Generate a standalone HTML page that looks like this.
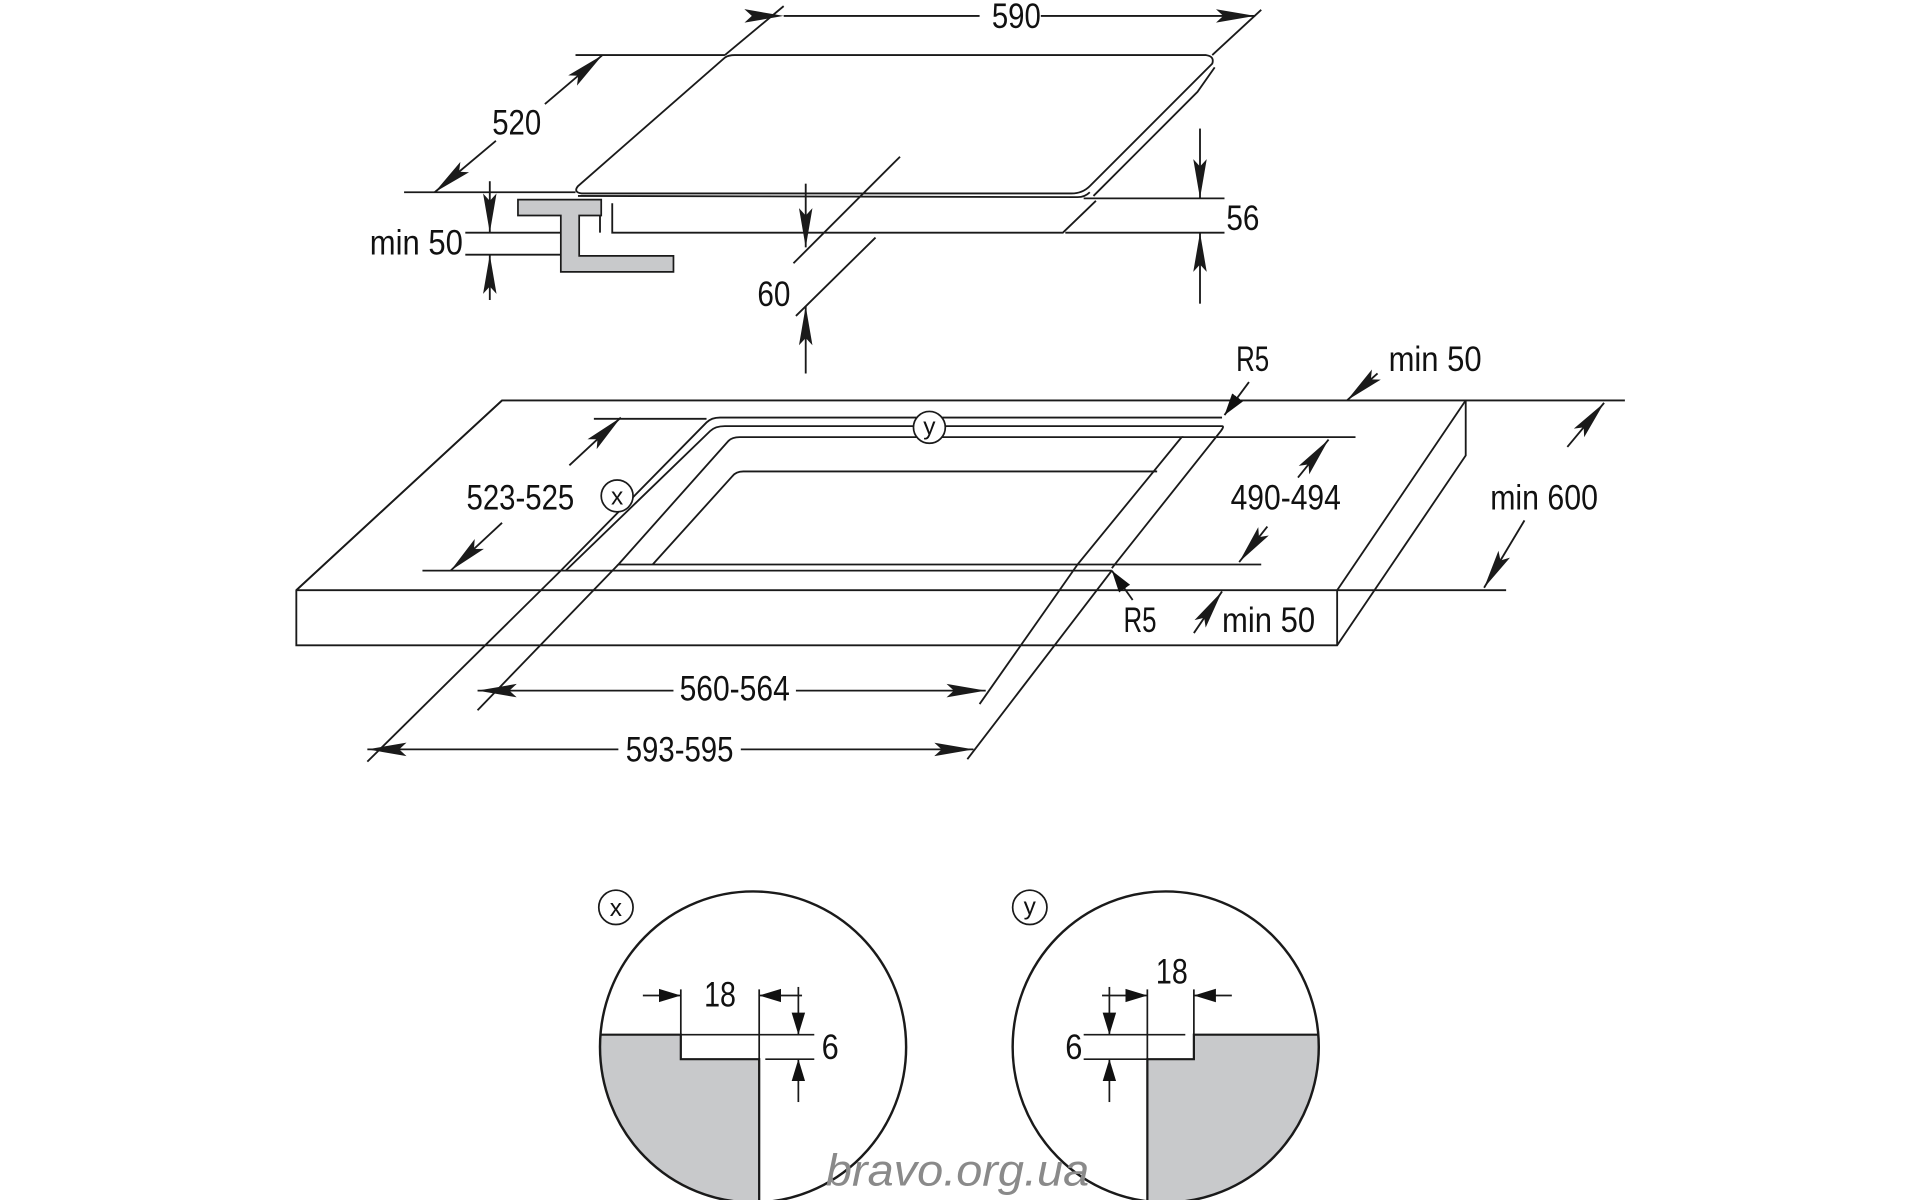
<!DOCTYPE html>
<html><head><meta charset="utf-8"><style>html,body{margin:0;padding:0;background:#fff}svg{display:block}</style></head>
<body>
<svg width="1920" height="1200" viewBox="0 0 1568 980" preserveAspectRatio="none" xmlns="http://www.w3.org/2000/svg">
<defs>
<marker id="a" markerUnits="userSpaceOnUse" markerWidth="34" markerHeight="14" refX="32" refY="7" orient="auto"><path d="M0,1.5 L32,7 L0,12.5 L6,7 Z" fill="#1a1a1a"/></marker>
<marker id="s" markerUnits="userSpaceOnUse" markerWidth="20" markerHeight="14" refX="18" refY="7" orient="auto"><path d="M0,1.5 L18,7 L0,12.5 Z" fill="#111"/></marker>
</defs>
<g fill="none" stroke="#1a1a1a" stroke-width="1.5">
<path d="M600,45 L985,45 Q992,46 990,52 L890,152 Q884,158 875,158 L475,158 Q468,157 472,152 L592,47 Q595,45 600,45 Z"/>
<path d="M472,160 L880,161 Q886,161 890,157"/>
<path d="M992,55 L978,75 L893,160"/>
<path d="M500,166 L500,190 L868,190 L895,164"/>
<path d="M490,166 L490,190"/>
<line x1="592" y1="45" x2="640" y2="5"/><line x1="990" y1="45" x2="1030" y2="8"/>
<line x1="640" y1="13" x2="800" y2="13" marker-start="url(#a)"/><line x1="850" y1="13" x2="1025" y2="13" marker-end="url(#a)"/>
<line x1="470" y1="45" x2="592" y2="45"/><line x1="330" y1="157" x2="470" y2="157"/>
<line x1="445" y1="85" x2="492" y2="45" marker-end="url(#a)"/><line x1="405" y1="115" x2="355" y2="157" marker-end="url(#a)"/>
<line x1="885" y1="162" x2="1000" y2="162"/><line x1="870" y1="190" x2="1000" y2="190"/>
<line x1="980" y1="105" x2="980" y2="162" marker-end="url(#a)"/><line x1="980" y1="248" x2="980" y2="190" marker-end="url(#a)"/>
<line x1="735" y1="128" x2="648" y2="215"/><line x1="715" y1="194" x2="650" y2="258"/>
<line x1="658" y1="150" x2="658" y2="202" marker-end="url(#a)"/><line x1="658" y1="305" x2="658" y2="250" marker-end="url(#a)"/>
<line x1="400" y1="148" x2="400" y2="190" marker-end="url(#a)"/><line x1="400" y1="245" x2="400" y2="208" marker-end="url(#a)"/>
<line x1="380" y1="190" x2="460" y2="190"/><line x1="380" y1="208" x2="460" y2="208"/>
</g>
<path d="M423,163 L491,163 L491,176 L473,176 L473,209 L550,209 L550,222 L458,222 L458,176 L423,176 Z" fill="#c8c9cb" stroke="#1a1a1a" stroke-width="1.4"/>
<g fill="none" stroke="#1a1a1a" stroke-width="1.5">
<path d="M410,327 L1197,327 L1197,372 L1092,527 L242,527 L242,482 Z"/>
<line x1="242" y1="482" x2="410" y2="327"/>
<line x1="242" y1="482" x2="1092" y2="482"/><line x1="1092" y1="482" x2="1092" y2="527"/><line x1="1092" y1="482" x2="1197" y2="327"/>
<path d="M458,466 L577,345 Q581,341 588,341 L998,341"/>
<path d="M462,466 L580,352 Q584,348 592,348 L998,348 Q1000,348 997,352 L908,464"/>
<path d="M505,461 L595,360 Q598,357 604,357 L965,357 L880,461 Z"/>
<path d="M533,461 L598,389 Q601,385 607,385 L945,385"/>
<line x1="458" y1="466" x2="908" y2="466"/>
<line x1="485" y1="342" x2="577" y2="342"/><line x1="345" y1="466" x2="458" y2="466"/>
<line x1="465" y1="380" x2="507" y2="341" marker-end="url(#a)"/><line x1="410" y1="427" x2="368" y2="466" marker-end="url(#a)"/>
<line x1="965" y1="357" x2="1107" y2="357"/><line x1="880" y1="461" x2="1030" y2="461"/>
<line x1="1060" y1="390" x2="1085" y2="359" marker-end="url(#a)"/><line x1="1035" y1="430" x2="1012" y2="459" marker-end="url(#a)"/>
<line x1="1197" y1="327" x2="1327" y2="327"/><line x1="1092" y1="482" x2="1230" y2="482"/>
<line x1="1280" y1="365" x2="1310" y2="329" marker-end="url(#a)"/><line x1="1245" y1="425" x2="1212" y2="480" marker-end="url(#a)"/>
<line x1="1020" y1="312" x2="1000" y2="339" marker-end="url(#s)"/>
<line x1="1125" y1="305" x2="1100" y2="327" marker-end="url(#a)"/>
<line x1="925" y1="490" x2="908" y2="466" marker-end="url(#s)"/>
<line x1="975" y1="517" x2="998" y2="483" marker-end="url(#a)"/>
<line x1="505" y1="461" x2="390" y2="580"/><line x1="880" y1="461" x2="800" y2="575"/>
<line x1="550" y1="564" x2="390" y2="564" marker-end="url(#a)"/><line x1="650" y1="564" x2="805" y2="564" marker-end="url(#a)"/>
<line x1="458" y1="466" x2="300" y2="622"/><line x1="908" y1="466" x2="790" y2="620"/>
<line x1="505" y1="612" x2="300" y2="612" marker-end="url(#a)"/><line x1="605" y1="612" x2="795" y2="612" marker-end="url(#a)"/>
</g>
<g fill="#fff" stroke="#1a1a1a" stroke-width="1.4">
<circle cx="504" cy="405" r="13"/><circle cx="759" cy="349" r="13"/>
</g>
<defs>
<clipPath id="c1"><ellipse cx="615" cy="855" rx="125" ry="127"/></clipPath>
<clipPath id="c2"><ellipse cx="952" cy="855" rx="125" ry="127"/></clipPath>
</defs>
<g clip-path="url(#c1)">
<path d="M480,845 L556,845 L556,865 L620,865 L620,990 L480,990 Z" fill="#c8c9cb" stroke="#1a1a1a" stroke-width="1.8"/>
</g>
<g clip-path="url(#c2)">
<path d="M1090,845 L975,845 L975,865 L937,865 L937,990 L1090,990 Z" fill="#c8c9cb" stroke="#1a1a1a" stroke-width="1.8"/>
</g>
<g fill="none" stroke="#1a1a1a" stroke-width="1.4">
<ellipse cx="615" cy="855" rx="125" ry="127" stroke-width="2"/>
<ellipse cx="952" cy="855" rx="125" ry="127" stroke-width="2"/>
<circle cx="503" cy="741" r="14"/><circle cx="841" cy="741" r="14"/>
<line x1="556" y1="808" x2="556" y2="845"/><line x1="620" y1="808" x2="620" y2="980"/>
<line x1="525" y1="813" x2="556" y2="813" marker-end="url(#s)"/><line x1="655" y1="813" x2="620" y2="813" marker-end="url(#s)"/>
<line x1="556" y1="845" x2="665" y2="845"/><line x1="625" y1="865" x2="665" y2="865"/>
<line x1="652" y1="806" x2="652" y2="845" marker-end="url(#s)"/><line x1="652" y1="900" x2="652" y2="865" marker-end="url(#s)"/>
<line x1="937" y1="808" x2="937" y2="980"/><line x1="975" y1="808" x2="975" y2="845"/>
<line x1="900" y1="813" x2="937" y2="813" marker-end="url(#s)"/><line x1="1006" y1="813" x2="975" y2="813" marker-end="url(#s)"/>
<line x1="885" y1="845" x2="968" y2="845"/><line x1="885" y1="865" x2="937" y2="865"/>
<line x1="906" y1="806" x2="906" y2="845" marker-end="url(#s)"/><line x1="906" y1="900" x2="906" y2="865" marker-end="url(#s)"/>
</g>
<g font-family="'Liberation Sans', sans-serif" font-size="29" fill="#111" text-anchor="middle">
<text x="830" y="23" textLength="40" lengthAdjust="spacingAndGlyphs">590</text>
<text x="422" y="110" textLength="40" lengthAdjust="spacingAndGlyphs">520</text>
<text x="1015" y="188" textLength="27" lengthAdjust="spacingAndGlyphs">56</text>
<text x="632" y="250" textLength="27" lengthAdjust="spacingAndGlyphs">60</text>
<text x="340" y="208" textLength="76" lengthAdjust="spacingAndGlyphs">min 50</text>
<text x="1023" y="303" textLength="27" lengthAdjust="spacingAndGlyphs">R5</text>
<text x="1172" y="303" textLength="76" lengthAdjust="spacingAndGlyphs">min 50</text>
<text x="425" y="416" textLength="88" lengthAdjust="spacingAndGlyphs">523-525</text>
<text x="1050" y="416" textLength="90" lengthAdjust="spacingAndGlyphs">490-494</text>
<text x="1261" y="416" textLength="88" lengthAdjust="spacingAndGlyphs">min 600</text>
<text x="931" y="516" textLength="27" lengthAdjust="spacingAndGlyphs">R5</text>
<text x="1036" y="516" textLength="76" lengthAdjust="spacingAndGlyphs">min 50</text>
<text x="600" y="572" textLength="90" lengthAdjust="spacingAndGlyphs">560-564</text>
<text x="555" y="622" textLength="88" lengthAdjust="spacingAndGlyphs">593-595</text>
<text x="588" y="822" textLength="26" lengthAdjust="spacingAndGlyphs">18</text>
<text x="678" y="865" textLength="14" lengthAdjust="spacingAndGlyphs">6</text>
<text x="957" y="803" textLength="26" lengthAdjust="spacingAndGlyphs">18</text>
<text x="877" y="865" textLength="14" lengthAdjust="spacingAndGlyphs">6</text>
<text x="504" y="412" font-size="20">x</text><text x="759" y="355" font-size="20">y</text>
<text x="503" y="748" font-size="20">x</text><text x="841" y="747" font-size="20">y</text>
<text x="782" y="968" font-size="36" font-style="italic" fill="#8a8a8a" textLength="215" lengthAdjust="spacingAndGlyphs">bravo.org.ua</text>
</g>
</svg>
</body></html>
